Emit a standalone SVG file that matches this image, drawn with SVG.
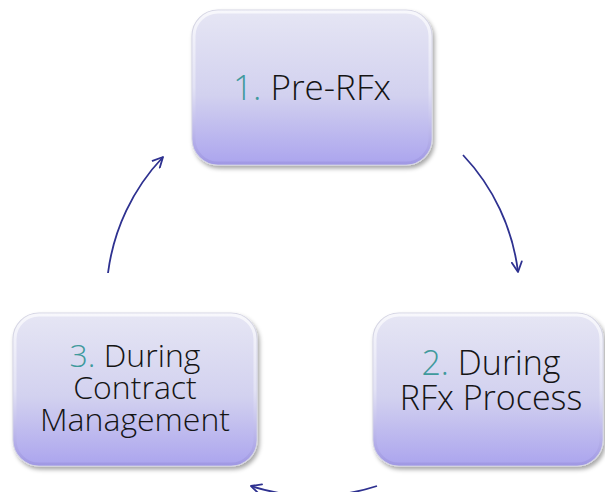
<svg xmlns="http://www.w3.org/2000/svg" width="605" height="492" viewBox="0 0 605 492">
<style>
.box{fill:url(#g);stroke:#d6d6e4;stroke-width:1.2;filter:url(#sh)}
.rim{fill:none;stroke:url(#rim);stroke-width:3;opacity:0.7}
.t{font-family:"Open Sans","Liberation Sans",sans-serif;font-weight:300;fill:#151515;text-anchor:middle}
.n{fill:#3f9a9c}
.c{fill:none;stroke:#2e3190;stroke-width:1.8;marker-end:url(#ah)}
</style>
<defs>
<linearGradient id="g" x1="0" y1="0" x2="0" y2="1">
<stop offset="0" stop-color="#e6e6f4"/>
<stop offset="0.55" stop-color="#d2d1ef"/>
<stop offset="1" stop-color="#aba4ee"/>
</linearGradient>
<linearGradient id="rim" x1="0" y1="0" x2="0" y2="1">
<stop offset="0" stop-color="#ffffff"/>
<stop offset="0.5" stop-color="#e8e8f6"/>
<stop offset="1" stop-color="#9c94e0"/>
</linearGradient>
<filter id="sh" x="-10%" y="-10%" width="125%" height="130%">
<feDropShadow dx="2" dy="3" stdDeviation="2.2" flood-color="#000" flood-opacity="0.35"/>
</filter>
<marker id="ah" viewBox="0 0 12 12" refX="11" refY="6" markerWidth="12" markerHeight="12" markerUnits="userSpaceOnUse" orient="auto">
<path d="M1,1 L11,6 L1,11" fill="none" stroke="#2e3190" stroke-width="1.8" stroke-linecap="round" stroke-linejoin="round"/>
</marker>
</defs>
<g id="connectors">
<path class="c" d="M463,155 A206.6,206.6 0 0 1 518,272"/>
<path class="c" d="M377,486 A206,206 0 0 1 251,486"/>
<path class="c" d="M108,273 A206.6,206.6 0 0 1 163,157"/>
</g>
<g id="node1">
<rect class="box" x="192" y="10" width="240" height="155" rx="26"/>
<rect class="rim" x="194" y="12" width="236" height="151" rx="24"/>
<text class="t" x="312" y="100" font-size="35"><tspan class="n">1.</tspan> Pre-RFx</text>
</g>
<g id="node2">
<rect class="box" x="373" y="313" width="230" height="153" rx="26"/>
<rect class="rim" x="375" y="315" width="226" height="149" rx="24"/>
<text class="t" x="491" y="375" font-size="34"><tspan class="n">2.</tspan> During</text>
<text class="t" x="491" y="410" font-size="34">RFx Process</text>
</g>
<g id="node3">
<rect class="box" x="13" y="313" width="244" height="153" rx="26"/>
<rect class="rim" x="15" y="315" width="240" height="149" rx="24"/>
<text class="t" x="135" y="367" font-size="32"><tspan class="n">3.</tspan> During</text>
<text class="t" x="135" y="399" font-size="32">Contract</text>
<text class="t" x="135" y="431" font-size="32">Management</text>
</g>
</svg>
